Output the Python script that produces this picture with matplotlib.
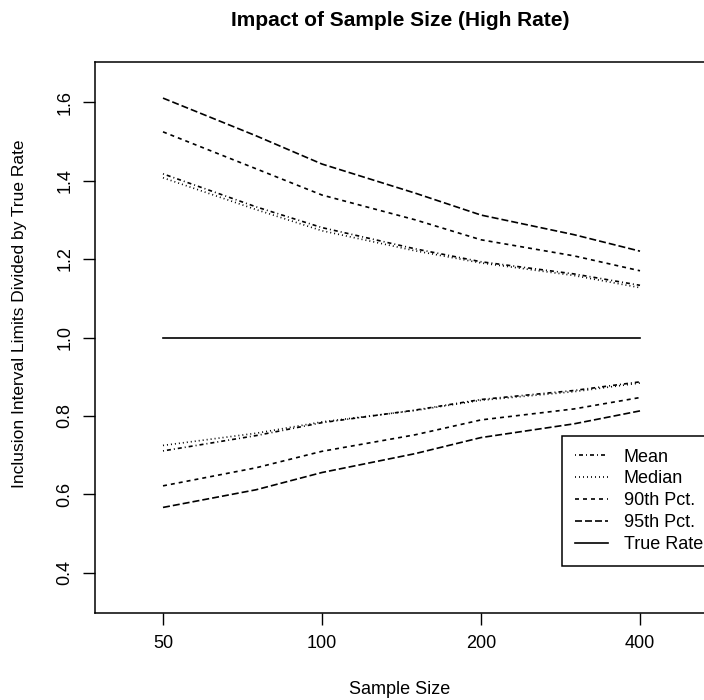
import matplotlib
matplotlib.use("Agg")
import matplotlib.pyplot as plt
from matplotlib.ticker import NullLocator, FixedLocator, FixedFormatter

plt.rcParams['font.family'] = ['Liberation Sans', 'DejaVu Sans']
plt.rcParams['lines.scale_dashes'] = False

# ---- data ----
sample_sizes = [50, 75, 100, 150, 200, 300, 400]
mean_upper   = [1.417, 1.333, 1.280, 1.226, 1.193, 1.162, 1.133]
median_upper = [1.407, 1.326, 1.272, 1.221, 1.190, 1.158, 1.127]
pct90_upper  = [1.524, 1.430, 1.363, 1.300, 1.249, 1.208, 1.170]
pct95_upper  = [1.610, 1.514, 1.442, 1.368, 1.312, 1.262, 1.220]
mean_lower   = [0.711, 0.750, 0.783, 0.815, 0.842, 0.865, 0.887]
median_lower = [0.725, 0.756, 0.785, 0.814, 0.840, 0.862, 0.884]
pct90_lower  = [0.622, 0.668, 0.710, 0.752, 0.790, 0.818, 0.847]
pct95_lower  = [0.567, 0.612, 0.656, 0.704, 0.745, 0.780, 0.813]
true_rate    = [1.0, 1.0, 1.0, 1.0, 1.0, 1.0, 1.0]

x_ticks = [50, 100, 200, 400]
x_tick_labels = ["50", "100", "200", "400"]
y_ticks = [0.4, 0.6, 0.8, 1.0, 1.2, 1.4, 1.6]
y_tick_labels = ["0.4", "0.6", "0.8", "1.0", "1.2", "1.4", "1.6"]
legend_labels = ["Mean", "Median", "90th Pct.", "95th Pct.", "True Rate"]

W, H = 704, 700
fig = plt.figure(figsize=(W / 100, H / 100), dpi=100)
left_px, right_px, top_px, bottom_px = 95, 712, 62, 613
ax = fig.add_axes([left_px / W, (H - bottom_px) / H,
                   (right_px - left_px) / W, (bottom_px - top_px) / H])

lw = 1.2
st_mean = (0, (0.72, 2.16, 2.88, 2.16))
st_median = (0, (0.72, 2.16))
st_90 = (0, (2.88, 2.88))
st_95 = (0, (5.04, 2.16))

h_mean, = ax.plot(sample_sizes, mean_upper, color='black', lw=lw, linestyle=st_mean)
ax.plot(sample_sizes, mean_lower, color='black', lw=lw, linestyle=st_mean)
h_med, = ax.plot(sample_sizes, median_upper, color='black', lw=lw, linestyle=st_median)
ax.plot(sample_sizes, median_lower, color='black', lw=lw, linestyle=st_median)
h_90, = ax.plot(sample_sizes, pct90_upper, color='black', lw=lw, linestyle=st_90)
ax.plot(sample_sizes, pct90_lower, color='black', lw=lw, linestyle=st_90)
h_95, = ax.plot(sample_sizes, pct95_upper, color='black', lw=lw, linestyle=st_95)
ax.plot(sample_sizes, pct95_lower, color='black', lw=lw, linestyle=st_95)
h_true, = ax.plot(sample_sizes, true_rate, color='black', lw=lw, linestyle='-')

ax.set_xscale('log', base=2)
# 50 at px 163, 159 px per doubling
px_per_oct = 159.0
x0 = 50 * 2 ** (-(163 - left_px) / px_per_oct)
x1 = 50 * 2 ** ((right_px - 163) / px_per_oct)
ax.set_xlim(x0, x1)
ax.set_ylim(0.298, 1.702)

ax.xaxis.set_major_locator(FixedLocator(x_ticks))
ax.xaxis.set_major_formatter(FixedFormatter(x_tick_labels))
ax.xaxis.set_minor_locator(NullLocator())
ax.yaxis.set_major_locator(FixedLocator(y_ticks))
ax.yaxis.set_major_formatter(FixedFormatter(y_tick_labels))
ax.yaxis.set_minor_locator(NullLocator())

ax.tick_params(axis='both', length=8.6, width=1.0, labelsize=13, color='black', pad=7)
for lab in ax.get_yticklabels():
    lab.set_rotation(90)
    lab.set_va('center')

for sp in ax.spines.values():
    sp.set_linewidth(1.1)
    sp.set_color('black')

fig.text(400 / W, 1 - 20 / H, "Impact of Sample Size (High Rate)",
         ha='center', va='center', fontsize=15, fontweight='bold')
fig.text(400 / W, 1 - 689 / H, "Sample Size", ha='center', va='center', fontsize=13)
fig.text(20 / W, 1 - 314 / H, "Inclusion Interval Limits Divided by True Rate",
         ha='center', va='center', rotation=90, fontsize=12.5)

leg = ax.legend([h_mean, h_med, h_90, h_95, h_true], legend_labels,
                loc='lower right',
                bbox_to_anchor=(1.0 + 4 / (right_px - left_px),
                                (bottom_px - 566) / (bottom_px - top_px)),
                borderaxespad=0, fontsize=13, frameon=True, fancybox=False,
                edgecolor='black', framealpha=1, handlelength=1.85,
                handletextpad=0.85, labelspacing=0.27, borderpad=0.72)
leg.get_frame().set_linewidth(1.1)

fig.savefig("out.png", dpi=100)
